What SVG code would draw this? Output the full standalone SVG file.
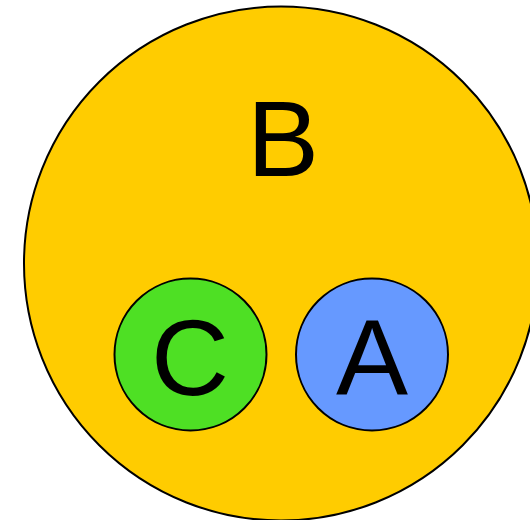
<svg xmlns="http://www.w3.org/2000/svg" width="530" height="520" viewBox="0 0 530 520">
<style>
.n{stroke:#000;stroke-width:2}
.t{font-family:"Liberation Sans",Arial,sans-serif;font-size:108px;text-anchor:middle;fill:#000}
</style>
<rect width="530" height="520" fill="#fff"/>
<g id="B">
<circle class="n" cx="281" cy="263.5" r="257" fill="#ffcc00"/>
<text class="t" x="283" y="176">B</text>
</g>
<g id="C">
<circle class="n" cx="190.5" cy="354.5" r="76" fill="#4ee024"/>
<text class="t" x="190" y="395">C</text>
</g>
<g id="A">
<circle class="n" cx="372" cy="354.5" r="76" fill="#6699ff"/>
<text class="t" x="372" y="395">A</text>
</g>
<g id="connectors"/>
</svg>
